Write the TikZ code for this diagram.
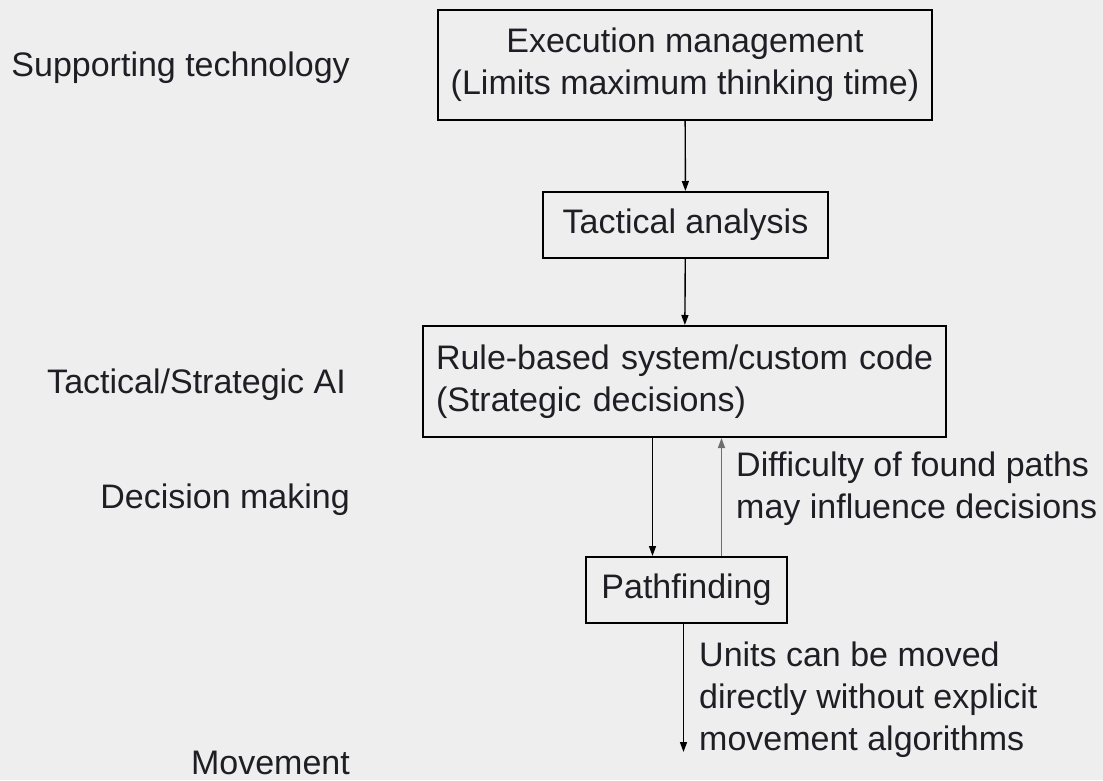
\documentclass[tikz,border=0pt]{standalone}
\usepackage{fontspec}
\setmainfont{Liberation Sans}
\usetikzlibrary{arrows.meta}
\definecolor{bgcol}{HTML}{EEEEEE}
\definecolor{txtcol}{HTML}{1E1E24}
\definecolor{upcol}{HTML}{6E6E6E}
\tikzset{
  every node/.style={font=\fontsize{34}{42}\selectfont, text=txtcol},
  box/.style={draw=black, line width=2pt, inner sep=0pt},
  arr/.style={draw=black, line width=1.4pt, -{Triangle[length=10pt,width=7pt]}},
  lbl/.style={anchor=east, inner sep=0pt},
  note/.style={anchor=west, align=left, inner sep=0pt}
}
\begin{document}
\begin{tikzpicture}[x=1pt,y=-1pt]
 % background 
                \fill[bgcol] (0,0) rectangle (1103,780);
                \useasboundingbox (0,0) rectangle (1103,780);
                % left labels 
                \node at (350,68) (suptech) [lbl] {Supporting technology};
                \node at (346,385) (tacai) [lbl] {Tactical/Strategic AI};
                \node at (350,500) (decmake) [lbl] {Decision making};
                \node at (350,763) (movement) [lbl] {Movement};
                % boxes 
                \node at (685,65) (exec) [box, minimum width=494pt, minimum height=110pt, align=center] {Execution management\\(Limits maximum thinking time)};
                \node at (685.5,225) (tact) [box, minimum width=285pt, minimum height=66pt] {Tactical analysis};
                \node at (684.5,381.5) (rule) [box, text width=497pt, inner xsep=13pt, minimum height=111pt, align=left] {Rule-based system/custom code\\(Strategic decisions)};
                \node at (686.5,590) (pathf) [box, minimum width=201pt, minimum height=66pt] {Pathfinding};
                % arrows 
                \draw [arr] (exec) -- (tact);
                \draw [arr] (tact) -- (rule);
                \coordinate (dtop) at ([xshift=-32pt]rule.south);
                \coordinate (utop) at ([xshift=37pt]rule.south);
                \coordinate (mvend) at ([xshift=-3pt]pathf.south |- 0,752);
                \draw [arr] (dtop) -- (dtop |- pathf.north);
                \draw [arr, draw=upcol] (utop |- pathf.north) -- (utop);
                \draw [arr] ([xshift=-3pt]pathf.south) -- (mvend);
                % notes 
                \node at (736,489) (diffnote) [note] {Difficulty of found paths\\may influence decisions};
                \node at (699,700) (unitsnote) [note] {Units can be moved\\directly without explicit\\movement algorithms};
\end{tikzpicture}
\end{document}
